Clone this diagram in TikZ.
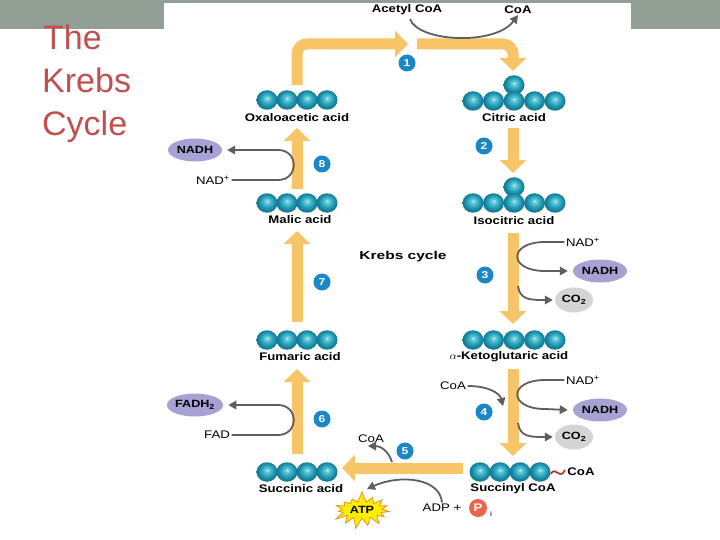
\documentclass[tikz,border=0pt]{standalone}
\usepackage{fontspec}
\setmainfont{Liberation Sans}
\newfontfamily\lab[FakeStretch=1.2]{Liberation Sans}
\newfontfamily\labw[FakeStretch=1.35]{Liberation Sans}
\usetikzlibrary{arrows.meta,shapes.geometric,shapes.symbols}
\definecolor{band}{RGB}{145,159,148}
\definecolor{flow}{RGB}{247,196,104}
\definecolor{atomhi}{RGB}{200,240,245}
\definecolor{atomlt}{RGB}{110,205,220}
\definecolor{atommid}{RGB}{45,168,192}
\definecolor{atomedge}{RGB}{22,125,152}
\definecolor{numblue}{RGB}{27,135,197}
\definecolor{lav}{RGB}{168,162,212}
\definecolor{cogray}{RGB}{212,212,212}
\definecolor{arrgray}{RGB}{95,95,95}
\definecolor{titlered}{RGB}{192,80,77}
\definecolor{pred}{RGB}{232,102,76}
\definecolor{tildered}{RGB}{190,40,40}
\definecolor{atpyel}{RGB}{255,238,0}
\definecolor{atporange}{RGB}{235,150,20}
\pgfdeclareradialshading{atomshade}{\pgfpoint{0bp}{5bp}}{color(0bp)=(atomhi); color(4bp)=(atomlt); color(13bp)=(atommid); color(22bp)=(atomedge); color(50bp)=(atomedge)}
\begin{document}
\begin{tikzpicture}[x=1pt,y=-1pt,
  atom/.style={ellipse, minimum width=21pt, minimum height=19.5pt, inner sep=0pt, shading=atomshade},
  mol/.style={font=\lab\bfseries\fontsize{11}{13}\selectfont, inner sep=1pt},
  txt/.style={font=\lab\fontsize{11}{13}\selectfont, inner sep=1.5pt},
  num/.style={circle, fill=numblue, minimum size=17pt, inner sep=0pt, text=white, font=\lab\bfseries\fontsize{10}{10}\selectfont},
  flowarrow/.style={draw=flow, line width=11pt, -{Triangle[width=26pt,length=13pt]}, rounded corners=10pt},
  side/.style={draw=arrgray, line width=1.8pt, -{Triangle[width=8.5pt,length=8pt]}},
  carrier/.style={ellipse, fill=lav, minimum width=54pt, minimum height=23pt, inner sep=0pt, font=\lab\bfseries\fontsize{10.5}{12}\selectfont},
  cotwo/.style={ellipse, fill=cogray, minimum width=38pt, minimum height=25pt, inner sep=0pt, font=\lab\bfseries\fontsize{10.5}{12}\selectfont},
  ttl/.style={anchor=base west, inner sep=0pt, text=titlered, font=\fontsize{34}{40}\selectfont}
]
\useasboundingbox (0,0) rectangle (720,540);
% background
\fill[band] (0,0) rectangle (720,29);
\fill[white] (164,3) rectangle (631,540);
% title
\node[ttl] (t1) at (43,50) {The};
\node[ttl] (t2) at (42,93) {Krebs};
\node[ttl] (t3) at (42,136) {Cycle};

% molecules
\foreach \i/\x in {1/267,2/287,3/307,4/327} \node[atom] (oxa\i) at (\x,100) {};
\node[mol] (oxal) at (297,118) {Oxaloacetic acid};
\node[atom] (citt) at (514,85) {};
\foreach \i/\x in {1/473,2/493.5,3/514,4/534.5,5/555} \node[atom] (cit\i) at (\x,101) {};
\node[mol] (citl) at (514,118) {Citric acid};
\node[atom] (isot) at (514,187) {};
\foreach \i/\x in {1/473,2/493.5,3/514,4/534.5,5/555} \node[atom] (iso\i) at (\x,203) {};
\node[mol] (isol) at (514,221) {Isocitric acid};
\foreach \i/\x in {1/267,2/287,3/307,4/327} \node[atom] (mal\i) at (\x,203) {};
\node[mol] (mall) at (300,220) {Malic acid};
\foreach \i/\x in {1/267,2/287,3/307,4/327} \node[atom] (fum\i) at (\x,340) {};
\node[mol] (fuml) at (300,357) {Fumaric acid};
\foreach \i/\x in {1/473,2/493.5,3/514,4/534.5,5/555} \node[atom] (akg\i) at (\x,340) {};
\node[mol] (akgl) at (509,357) {$\alpha$-Ketoglutaric acid};
\foreach \i/\x in {1/267,2/287,3/307,4/327} \node[atom] (suc\i) at (\x,472) {};
\node[mol] (sucl) at (301,489) {Succinic acid};
\foreach \i/\x in {1/480,2/500,3/520,4/540} \node[atom] (scoa\i) at (\x,472) {};
\node[mol] (scoal) at (513,489) {Succinyl CoA};
\draw[tildered, line width=1.6pt] (551,474) .. controls (555,465) and (560,481) .. (565,470);
\node[mol] (scoacoa) at (581,472) {CoA};

% cycle arrows
\coordinate (f1a) at (297,85);
\coordinate (f1b) at (297,44);
\coordinate (f1c) at (408,44);
\coordinate (f1d) at (417,44);
\coordinate (f1e) at (513,44);
\coordinate (f1f) at (513,71);
\draw[flowarrow] (f1a) -- (f1b) -- (f1c);
\draw[flowarrow] (f1d) -- (f1e) -- (f1f);
\coordinate (f2a) at (513,128); \coordinate (f2b) at (513,173);
\draw[flowarrow] (f2a) -- (f2b);
\coordinate (f3a) at (513,233); \coordinate (f3b) at (513,324);
\draw[flowarrow] (f3a) -- (f3b);
\coordinate (f4a) at (513,369); \coordinate (f4b) at (513,456);
\draw[flowarrow] (f4a) -- (f4b);
\coordinate (f5a) at (463,468); \coordinate (f5b) at (342,468);
\draw[flowarrow] (f5a) -- (f5b);
\coordinate (f6a) at (297,454); \coordinate (f6b) at (297,369);
\draw[flowarrow] (f6a) -- (f6b);
\coordinate (f7a) at (297,322); \coordinate (f7b) at (297,231);
\draw[flowarrow] (f7a) -- (f7b);
\coordinate (f8a) at (297,189); \coordinate (f8b) at (297,128);
\draw[flowarrow] (f8a) -- (f8b);

% step numbers
\node[num] (n1) at (407,63) {1};
\node[num] (n2) at (484,146) {2};
\node[num] (n3) at (485,275) {3};
\node[num] (n4) at (484,412) {4};
\node[num] (n5) at (405,451) {5};
\node[num] (n6) at (322,419) {6};
\node[num] (n7) at (322,282) {7};
\node[num] (n8) at (322,164) {8};

\node[font=\labw\bfseries\fontsize{11.5}{13}\selectfont] (kc) at (403,257) {Krebs cycle};

% step 1
\node[mol] (acetyl) at (407,10) {Acetyl CoA};
\node[mol] (coa1) at (518,10) {CoA};
\draw[side] (410,19) .. controls (418,42) and (495,46) .. (coa1.south);

% step 8
\node[carrier] (nadh8) at (195,150) {NADH};
\node[txt] (nad8) at (213,180) {NAD\textsuperscript{+}};
\draw[side] (nad8.east) -- (278,180) .. controls (299,180) and (299,150) .. (278,150) -- ([xshift=5pt]nadh8.east);

% step 6
\node[carrier] (fadh) at (195,405) {FADH\textsubscript{2}};
\node[txt] (fad) at (217,435) {FAD};
\draw[side] (fad.east) -- (278,435) .. controls (299,435) and (299,405) .. (278,405) -- ([xshift=5pt]fadh.east);

% step 3
\node[txt] (nad3) at (583,242) {NAD\textsuperscript{+}};
\node[carrier] (nadh3) at (600,271) {NADH};
\node[cotwo] (co3) at (574,300) {CO\textsubscript{2}};
\draw[side] (nad3.west) -- (545,242) .. controls (508,242) and (508,271) .. (545,271) -- ([xshift=-5pt]nadh3.west);
\draw[side] (518,286) .. controls (520,300) and (530,300) .. ([xshift=-2pt]co3.west);

% step 4
\node[txt] (nad4) at (583,380) {NAD\textsuperscript{+}};
\node[carrier] (nadh4) at (600,410) {NADH};
\node[cotwo] (co4) at (574,437) {CO\textsubscript{2}};
\draw[side] (nad4.west) -- (545,380) .. controls (508,380) and (508,409) .. (545,409) -- ([xshift=-5pt]nadh4.west);
\draw[side] (518,423) .. controls (520,437) and (530,437) .. ([xshift=-2pt]co4.west);
\node[txt] (coa4) at (453,386) {CoA};
\draw[side] (coa4.east) .. controls (490,386) and (500,394) .. (503,406);

% step 5
\node[txt] (coa5) at (371,439) {CoA};
\draw[side] (392,462) .. controls (388,450) and (380,446) .. (368,446);
\node[starburst, starburst points=15, starburst point height=11pt, random starburst=7, fill=atpyel, draw=atporange, line width=0.8pt, minimum width=62pt, minimum height=38pt, inner sep=0pt, font=\lab\bfseries\fontsize{10.5}{12}\selectfont] (atp) at (362,510) {ATP};
\node[txt] (adp) at (442,508) {ADP +};
\node[circle, fill=pred, minimum size=18pt, inner sep=0pt, text=white, font=\lab\bfseries\fontsize{11}{12}\selectfont] (pi) at (478,508) {P};
\node[font=\lab\fontsize{7}{8}\selectfont, inner sep=0pt] (isub) at (491,514) {i};
\draw[side] (adp.north) .. controls (440,478) and (400,474) .. (367,489);
\end{tikzpicture}
\end{document}
